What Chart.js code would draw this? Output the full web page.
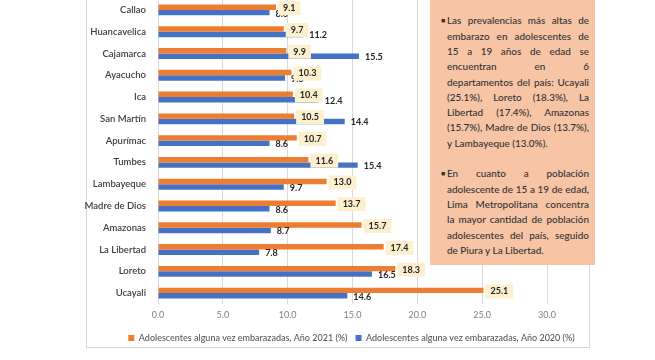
<!DOCTYPE html>
<html>
<head>
<meta charset="utf-8">
<script src="https://cdn.jsdelivr.net/npm/chart.js@4/dist/chart.umd.min.js"></script>
<style>
  html, body { margin:0; padding:0; background:#fff; width:655px; height:360px; overflow:hidden; }
  #frame { position:absolute; left:86px; top:-20px; width:504px; height:368px; box-sizing:border-box; border:1px solid #d9d9d9; }
  #wrap { position:absolute; left:0; top:-20px; width:655px; height:380px; }
  #note { position:absolute; left:430px; top:-10px; width:165px; height:275px; background:#F7C4A6; z-index:5; }
  #note .txt { position:absolute; left:17px; top:23.4px; width:142px; font-family:Lato, "Open Sans", sans-serif; font-weight:500; color:#333; line-height:15.3px; }
  #note .ln { white-space:nowrap; text-align:justify; text-align-last:justify; height:15.3px; }
  #note .ln.last { text-align-last:left; text-align:left; }
  #note .gap { height:15.3px; }
  #note .bul { position:absolute; left:-6px; font-size:7px; }
</style>
</head>
<body>
<div id="frame"></div>
<div id="wrap"><canvas id="c" width="655" height="380"></canvas></div>
<div id="note"><div class="txt" id="txt">
  <div class="ln" style="position:relative"><span class="bul">■</span>Las prevalencias más altas de</div>
  <div class="ln">embarazo en adolescentes de</div>
  <div class="ln">15 a 19 años de edad se</div>
  <div class="ln">encuentran en 6</div>
  <div class="ln">departamentos del país: Ucayali</div>
  <div class="ln">(25.1%), Loreto (18.3%), La</div>
  <div class="ln">Libertad (17.4%), Amazonas</div>
  <div class="ln">(15.7%), Madre de Dios (13.7%),</div>
  <div class="ln last">y Lambayeque (13.0%).</div>
  <div class="gap"></div>
  <div class="ln" style="position:relative"><span class="bul">■</span>En cuanto a población</div>
  <div class="ln">adolescente de 15 a 19 de edad,</div>
  <div class="ln">Lima Metropolitana concentra</div>
  <div class="ln">la mayor cantidad de población</div>
  <div class="ln">adolescentes del país, seguido</div>
  <div class="ln last">de Piura y La Libertad.</div>
</div></div>
<script>
// ---- data ----
const categories = ["Callao","Huancavelica","Cajamarca","Ayacucho","Ica","San Martín","Apurímac","Tumbes","Lambayeque","Madre de Dios","Amazonas","La Libertad","Loreto","Ucayali"];
const values2021 = [9.1, 9.7, 9.9, 10.3, 10.4, 10.5, 10.7, 11.6, 13.0, 13.7, 15.7, 17.4, 18.3, 25.1];
const values2020 = [8.6, 11.2, 15.5, 9.8, 12.4, 14.4, 8.6, 15.4, 9.7, 8.6, 8.7, 7.8, 16.5, 14.6];
const label2021 = "Adolescentes alguna vez embarazadas, Año 2021 (%)";
const label2020 = "Adolescentes alguna vez embarazadas, Año 2020 (%)";
const xTicks = [0, 5, 10, 15, 20, 25, 30];

// fit note text font
(function(){
  const txt = document.getElementById('txt');
  let fs = 10.5;
  const c = document.createElement('canvas').getContext('2d');
  let maxW = 0;
  txt.querySelectorAll('.ln').forEach(l => {
    c.font = '500 ' + fs + 'px Lato';
    const w = c.measureText(l.textContent.replace('■','')).width;
    if (w > maxW) maxW = w;
  });
  if (maxW > 141) fs = fs * 141 / maxW;
  txt.style.fontSize = fs.toFixed(2) + 'px';
})();

const ORANGE = '#ED7D31', BLUE = '#4472C4';

const labelPlugin = {
  id: 'valLabels',
  afterDatasetsDraw(chart) {
    const ctx = chart.ctx;
    ctx.save();
    ctx.font = 'bold 9px Lato, sans-serif';
    ctx.textBaseline = 'middle';
    // blue (2020) labels first
    const mb = chart.getDatasetMeta(1);
    mb.data.forEach((el, i) => {
      ctx.fillStyle = '#262626';
      ctx.textAlign = 'left';
      ctx.fillText(values2020[i].toFixed(1), el.x + 6, el.y + 1);
    });
    // orange (2021) labels with box
    const mo = chart.getDatasetMeta(0);
    mo.data.forEach((el, i) => {
      const t = values2021[i].toFixed(1);
      const tw = ctx.measureText(t).width;
      const bx = el.x + 2, bw = tw + 10, by = el.y - 6, bh = 14;
      ctx.fillStyle = '#FDF0CF';
      ctx.fillRect(bx, by, bw, bh);
      ctx.fillStyle = '#262626';
      ctx.textAlign = 'center';
      ctx.fillText(t, bx + bw / 2, el.y + 1);
    });
    ctx.restore();
  }
};

new Chart(document.getElementById('c'), {
  type: 'bar',
  data: {
    labels: categories,
    datasets: [
      { label: label2021, data: values2021, backgroundColor: ORANGE, categoryPercentage: 0.5, barPercentage: 1.0 },
      { label: label2020, data: values2020, backgroundColor: BLUE, categoryPercentage: 0.5, barPercentage: 1.0 }
    ]
  },
  options: {
    indexAxis: 'y',
    responsive: false,
    animation: false,
    layout: { padding: { left: 48, right: 0, top: 19, bottom: 7.5 } },
    scales: {
      x: {
        min: 0, max: 30,
        afterBuildTicks: s => { s.ticks = xTicks.map(v => ({ value: v })); },
        ticks: { callback: v => Number(v).toFixed(1), color: '#808080', font: { family: 'Lato', size: 9 }, padding: 6, maxRotation: 0 },
        grid: { color: '#d9d9d9', drawTicks: false },
        border: { display: false },
        afterFit: s => { s.height = 21.5; }
      },
      y: {
        grid: { display: false, drawTicks: false },
        border: { display: false },
        ticks: { color: '#404040', font: { family: 'Lato', size: 9.5, weight: 600 }, padding: 12 },
        afterFit: s => { s.width = 110; }
      },
      yr: {
        type: 'linear', position: 'right', display: true,
        grid: { display: false, drawTicks: false }, border: { display: false },
        ticks: { display: false },
        afterFit: s => { s.width = 108; }
      }
    },
    plugins: {
      legend: {
        position: 'bottom',
        labels: { boxWidth: 6, boxHeight: 6, padding: 8, color: '#595959', font: { family: 'Lato', size: 9, weight: 500 } }
      },
      tooltip: { enabled: false }
    }
  },
  plugins: [labelPlugin]
});
</script>
</body>
</html>
